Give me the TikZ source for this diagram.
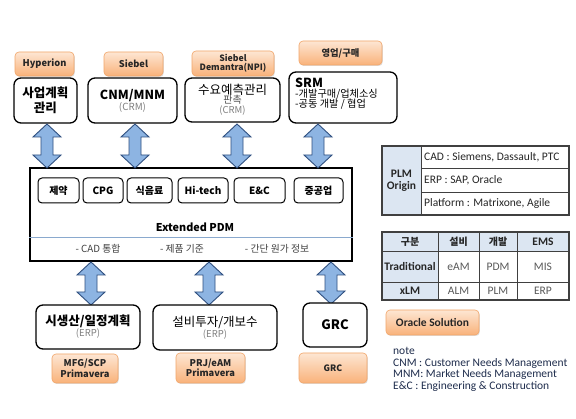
\documentclass[tikz,border=0pt]{standalone}
\usepackage{fontspec}
\setmainfont{Noto Sans CJK KR}
\newfontfamily\lat{Carlito}
\usetikzlibrary{shadows}
\definecolor{oborder}{HTML}{F2A66A}
\definecolor{otop}{HTML}{FDE6D3}
\definecolor{obot}{HTML}{F9B27A}
\definecolor{ablue}{HTML}{8DB4E2}
\definecolor{aline}{HTML}{2F4F7F}
\definecolor{tblue}{HTML}{DCE6F2}
\definecolor{tline}{HTML}{404040}
\definecolor{notec}{HTML}{1F2D4D}
\definecolor{grayt}{HTML}{7F7F7F}
\tikzset{
  x=1pt, y=-1pt,
  obox/.style={draw=oborder, line width=0.6pt, rounded corners=4pt, top color=otop, bottom color=obot,
    font=\fontsize{9.3}{10.5}\selectfont\bfseries, text=black!85, align=center, inner sep=1pt,
    drop shadow={shadow xshift=0.8pt, shadow yshift=-1pt, opacity=0.25}},
  wbox/.style={draw=black, line width=1.3pt, rounded corners=7pt, fill=white, align=center, inner sep=1pt},
  sbox/.style={draw=black, line width=1pt, rounded corners=4pt, fill=white, minimum height=25pt,
    font=\fontsize{10}{11}\selectfont\bfseries, inner sep=0pt},
  barrow/.style={draw=aline, fill=ablue, line width=0.9pt, line join=miter},
  tl/.style={draw=tline, line width=0.9pt},
  tt/.style={font=\lat\fontsize{11.5}{12}\selectfont, text=black!85, inner sep=0pt},
  ttb/.style={font=\lat\fontsize{11.5}{12}\selectfont\bfseries, text=black!85, inner sep=0pt},
  bul/.style={font=\fontsize{9.8}{11}\selectfont, text=black!75, inner sep=0pt},
}
\newcommand\dblarr[3]{%
  \draw[barrow] (#1,#2) -- (#1+14,#2+13) -- (#1+6,#2+13) -- (#1+6,#3-13) -- (#1+14,#3-13) -- (#1,#3)
    -- (#1-14,#3-13) -- (#1-6,#3-13) -- (#1-6,#2+13) -- (#1-14,#2+13) -- cycle;}
\begin{document}
\begin{tikzpicture}
\useasboundingbox (0,0) rectangle (576,419);
\fill[white] (0,0) rectangle (576,419);

% top orange labels
\node[obox, minimum width=59pt, minimum height=24pt] (ohyp) at (44.5,64) {Hyperion};
\node[obox, minimum width=59pt, minimum height=24pt] (osieb) at (133.5,64) {Siebel};
\node[obox, minimum width=82pt, minimum height=25pt, font=\fontsize{8.7}{9.5}\selectfont\bfseries] (odem) at (233,63.5) {Siebel\\Demantra(NPI)};
\node[obox, minimum width=83pt, minimum height=24pt] (osales) at (340.5,53) {영업/구매};

% top white boxes
\node[wbox, minimum width=63pt, minimum height=45pt, font=\fontsize{12.5}{14.5}\selectfont\bfseries] (biz) at (45.5,100.5) {사업계획\\관리};
\node[wbox, minimum width=89pt, minimum height=45pt] (cnm) at (132.5,100.5) {{\fontsize{12.5}{14}\selectfont\bfseries CNM/MNM}\\[-1pt]{\fontsize{9.8}{10}\selectfont\color{grayt}(CRM)}};
\node[wbox, minimum width=95pt, minimum height=44pt] (dem) at (232.5,100) {{\fontsize{12.5}{14}\selectfont 수요예측관리}\\[-3pt]{\fontsize{10}{10}\selectfont\color{black!70}판촉}\\[-2pt]{\fontsize{9.5}{10}\selectfont\color{grayt}(CRM)}};
\node[wbox, minimum width=108pt, minimum height=51pt] (srm) at (343,97.5) {};
\node[anchor=north west, align=left, inner sep=0pt] (srmt) at (295,78) {{\fontsize{12.5}{14}\selectfont\bfseries SRM}\\[-2pt]{\fontsize{10.2}{11.5}\selectfont -개발구매/업체소싱}\\[-2pt]{\fontsize{10.2}{11.5}\selectfont -공동 개발 / 협업}};

% main box
\node[draw=black, line width=1.3pt, fill=white, minimum width=322pt, minimum height=93pt, inner sep=0pt] (pdm) at (191,214.5) {};
\node[sbox, minimum width=41pt] (s1) at (58.5,190.5) {제약};
\node[sbox, minimum width=40pt] (s2) at (103,190.5) {CPG};
\node[sbox, minimum width=45pt] (s3) at (149.5,190.5) {식음료};
\node[sbox, minimum width=50pt] (s4) at (203,190.5) {Hi-tech};
\node[sbox, minimum width=51pt] (s5) at (259.5,190.5) {E\&C};
\node[sbox, minimum width=49pt] (s6) at (318.5,190.5) {중공업};
\node[font=\fontsize{10.8}{12}\selectfont\bfseries, inner sep=0pt] (ext) at (195,227) {Extended PDM};
\draw[draw=ablue!80!gray, line width=0.6pt] (pdm.west |- 0,237) -- (pdm.east |- 0,237);
\node[bul] (b1) at (98,249) {- CAD 통합};
\node[bul] (b2) at (182,249) {- 제품 기준};
\node[bul] (b3) at (277,249) {- 간단 원가 정보};

% top arrows
\dblarr{47}{124}{168}
\dblarr{135}{124}{168}
\dblarr{237}{124}{168}
\dblarr{318}{124}{168}

% bottom arrows
\dblarr{91}{262}{305}
\dblarr{209}{262}{305}
\dblarr{331}{262}{304}

% bottom white boxes
\node[wbox, minimum width=104pt, minimum height=44pt] (mfg) at (88,327) {{\fontsize{12.5}{14}\selectfont\bfseries 시생산/일정계획}\\[-1pt]{\fontsize{9.5}{10}\selectfont\color{grayt}(ERP)}};
\node[wbox, minimum width=124pt, minimum height=45pt] (fac) at (215,327.5) {{\fontsize{12.5}{14}\selectfont 설비투자/개보수}\\[-1pt]{\fontsize{9.5}{10}\selectfont\color{grayt}(ERP)}};
\node[wbox, minimum width=64pt, minimum height=44pt, font=\fontsize{13}{15}\selectfont\bfseries] (grc) at (335,325) {GRC};

% bottom orange labels
\node[obox, minimum width=66pt, minimum height=29pt] (omfg) at (85,368.5) {MFG/SCP\\Primavera};
\node[obox, minimum width=69pt, minimum height=30pt] (oprj) at (210.5,368) {PRJ/eAM\\Primavera};
\node[obox, minimum width=68pt, minimum height=30pt, font=\fontsize{8.8}{10}\selectfont\bfseries] (ogrc) at (333,368) {GRC};

% table 1
\fill[tblue] (382,146) rectangle (421,215);
\draw[tl] (421,146) -- (421,215) (421,168) -- (569,168) (421,192) -- (569,192);
\draw[tl, line width=1.3pt] (382,146) rectangle (569,215);
\node[ttb, align=center, font=\lat\fontsize{11.5}{12.5}\selectfont\bfseries] (plm) at (401.5,180.5) {PLM\\Origin};
\node[tt, anchor=west] (t1a) at (424,157) {CAD : Siemens, Dassault, PTC};
\node[tt, anchor=west] (t1b) at (424,180) {ERP : SAP, Oracle};
\node[tt, anchor=west] (t1c) at (424,203.5) {Platform : Matrixone, Agile};

% table 2
\fill[tblue] (382,232) rectangle (569,251);
\fill[tblue] (382,251) rectangle (438,300);
\draw[tl] (438,232) -- (438,300) (479,232) -- (479,300) (517,232) -- (517,300)
  (382,251) -- (569,251) (382,282) -- (569,282);
\draw[tl, line width=1.3pt] (382,232) rectangle (569,300);
\node[tt, font=\fontsize{10}{11}\selectfont\bfseries] (h1) at (410,241.5) {구분};
\node[tt, font=\fontsize{10}{11}\selectfont\bfseries] (h2) at (458.5,241.5) {설비};
\node[tt, font=\fontsize{10}{11}\selectfont\bfseries] (h3) at (498,241.5) {개발};
\node[ttb] (h4) at (543,241.5) {EMS};
\node[ttb] (r1) at (410,266.5) {Traditional};
\node[tt, text=black!65] (r1a) at (458.5,266.5) {eAM};
\node[tt, text=black!65] (r1b) at (498,266.5) {PDM};
\node[tt, text=black!65] (r1c) at (543,266.5) {MIS};
\node[ttb] (r2) at (410,291) {xLM};
\node[tt, text=black!65] (r2a) at (458.5,291) {ALM};
\node[tt, text=black!65] (r2b) at (498,291) {PLM};
\node[tt, text=black!65] (r2c) at (543,291) {ERP};

% oracle solution
\node[obox, minimum width=93pt, minimum height=25pt, font=\lat\fontsize{11.5}{12}\selectfont\bfseries] (oracle) at (432.5,322.5) {Oracle Solution};

% note
\node[anchor=north west, align=left, inner sep=0pt, text=notec, font=\lat\fontsize{11.5}{11.7}\selectfont] (note) at (393,347) {note\\CNM : Customer Needs Management\\MNM: Market Needs Management\\E\&C : Engineering \& Construction};
\end{tikzpicture}
\end{document}
